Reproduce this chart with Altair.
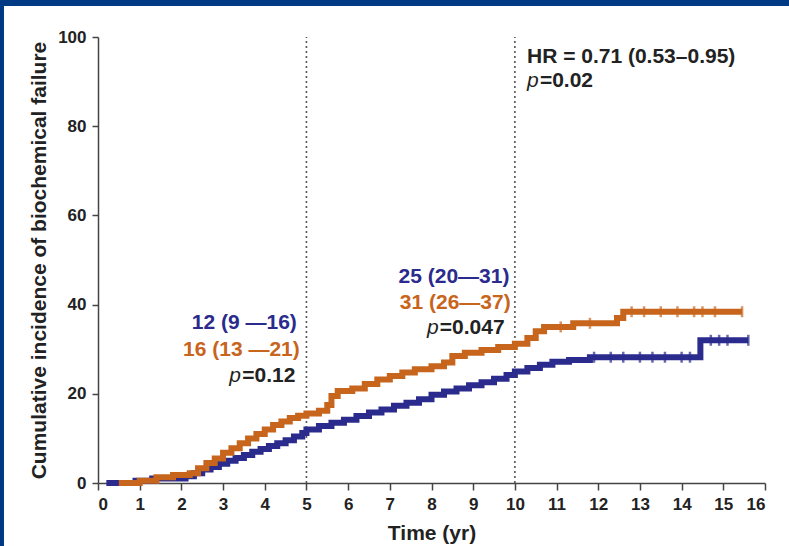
import altair as alt
import pandas as pd

# Cumulative incidence curves (time in years, incidence in %)
blue_t = [0.2, 0.9, 1.3, 2.1, 2.3, 2.5, 2.7, 2.9, 3.1, 3.3, 3.5, 3.7, 3.9, 4.1, 4.3,
          4.5, 4.7, 4.9, 5.0, 5.3, 5.6, 5.9, 6.2, 6.5, 6.8, 7.1, 7.4, 7.7, 8.0, 8.3,
          8.6, 8.9, 9.2, 9.5, 9.8, 10.0, 10.3, 10.6, 10.9, 11.3, 11.8, 14.45, 15.6]
blue_v = [0.0, 0.5, 1.0, 1.5, 2.2, 3.0, 3.6, 4.3, 5.0, 5.6, 6.3, 7.0, 7.6, 8.3, 8.9,
          9.6, 10.4, 11.2, 12.0, 12.8, 13.5, 14.2, 15.0, 15.8, 16.5, 17.3, 18.0, 18.8, 19.8, 20.5,
          21.2, 21.9, 22.6, 23.4, 24.2, 25.0, 25.8, 26.5, 27.2, 27.6, 28.2, 32.0, 32.0]

orange_t = [0.5, 1.0, 1.4, 1.8, 2.2, 2.4, 2.6, 2.8, 3.0, 3.2, 3.4, 3.6, 3.8, 4.0, 4.2,
            4.4, 4.6, 4.8, 5.0, 5.3, 5.5, 5.6, 5.75, 6.1, 6.4, 6.7, 7.0, 7.3, 7.6, 8.0,
            8.3, 8.5, 8.8, 9.2, 9.6, 10.0, 10.3, 10.5, 10.7, 11.4, 12.45, 12.6, 15.45]
orange_v = [0.0, 0.5, 1.3, 1.8, 2.2, 3.3, 4.5, 5.5, 6.8, 7.8, 8.9, 10.0, 11.0, 12.0, 13.0,
            13.8, 14.6, 15.1, 15.6, 16.2, 17.5, 19.5, 20.6, 21.2, 22.2, 23.2, 24.0, 24.8, 25.5, 26.2,
            27.0, 28.5, 29.2, 29.8, 30.5, 31.2, 32.5, 34.0, 35.0, 35.8, 37.0, 38.4, 38.4]

# Censoring times shown as small ticks on the plateaus
blue_cens = [11.9, 12.3, 12.6, 13.0, 13.3, 13.6, 14.0, 14.2, 14.7, 14.9, 15.1, 15.6]
orange_cens = [11.1, 11.8, 12.8, 13.1, 13.5, 13.9, 14.3, 14.5, 14.8, 15.45]

BLUE = "#2a2b8c"
ORANGE = "#c8651d"
FRAME = "#003a84"
INK = "#222222"
FONT = "Liberation Sans, Arial"
ANN = 21


def step_value(ts, vs, t):
    val = vs[0]
    for ti, vi in zip(ts, vs):
        if ti <= t:
            val = vi
    return val


curves = pd.concat([
    pd.DataFrame({"t": blue_t, "v": blue_v, "arm": "blue"}),
    pd.DataFrame({"t": orange_t, "v": orange_v, "arm": "orange"}),
])
cens = pd.concat([
    pd.DataFrame({"t": blue_cens, "v": [step_value(blue_t, blue_v, c) for c in blue_cens], "arm": "blue"}),
    pd.DataFrame({"t": orange_cens, "v": [step_value(orange_t, orange_v, c) for c in orange_cens], "arm": "orange"}),
])

xs = alt.Scale(domain=[0, 16], nice=False)
ys = alt.Scale(domain=[0, 100], nice=False)
col = alt.Color("arm:N", scale=alt.Scale(domain=["blue", "orange"], range=[BLUE, ORANGE]), legend=None)

x_enc = alt.X("t:Q", scale=xs, axis=alt.Axis(
    title="Time (yr)", values=list(range(0, 17)), grid=False,
    labelFontSize=17, labelFontWeight="bold", labelFont=FONT, labelColor=INK,
    titleFontSize=21, titleFontWeight="bold", titleFont=FONT, titleColor=INK,
    tickSize=7, tickWidth=1.5, domainWidth=1.5, domainColor="#444", tickColor="#444",
    labelPadding=6, titlePadding=10))
y_enc = alt.Y("v:Q", scale=ys, axis=alt.Axis(
    title="Cumulative incidence of biochemical failure", values=[0, 20, 40, 60, 80, 100], grid=False,
    labelFontSize=17, labelFontWeight="bold", labelFont=FONT, labelColor=INK,
    titleFontSize=21, titleFontWeight="bold", titleFont=FONT, titleColor=INK,
    tickSize=6, tickWidth=1.5, domainWidth=1.5, domainColor="#444", tickColor="#444",
    labelPadding=6, titlePadding=8))

lines = alt.Chart(curves).mark_line(interpolate="step-after", strokeWidth=6, strokeJoin="miter").encode(
    x=x_enc, y=y_enc, color=col, detail="arm:N")

ticks = alt.Chart(cens).mark_tick(orient="vertical", size=11, thickness=2.5).encode(
    x=alt.X("t:Q", scale=xs), y=alt.Y("v:Q", scale=ys), color=col)

marks_df = pd.DataFrame({"t": [5, 10], "y0": [0, 0], "y1": [100, 100]})
refs = alt.Chart(marks_df).mark_rule(color="#555", strokeWidth=1.6, strokeDash=[2, 3]).encode(
    x=alt.X("t:Q", scale=xs), y=alt.Y("y0:Q", scale=ys), y2="y1:Q")

# Annotations
ann_right = pd.DataFrame({
    "t": [4.77, 4.84, 9.87, 9.9],
    "v": [35.9, 29.9, 46.2, 40.4],
    "text": ["12 (9 —16)", "16 (13 —21)", "25 (20—31)", "31 (26—37)"],
    "c": [BLUE, ORANGE, BLUE, ORANGE],
})
txt_right = alt.Chart(ann_right).mark_text(align="right", baseline="middle", fontSize=ANN,
                                           fontWeight="bold", font=FONT).encode(
    x=alt.X("t:Q", scale=xs), y=alt.Y("v:Q", scale=ys), text="text:N", color=alt.Color("c:N", scale=None))

pvals = pd.DataFrame({
    "t": [3.46, 8.2, 10.6],
    "v": [24.0, 34.8, 90.1],
    "text": ["=0.12", "=0.047", "=0.02"],
})
p_letter = pd.DataFrame({
    "t": [3.43, 8.17, 10.57],
    "v": [24.0, 34.8, 90.1],
    "text": ["p", "p", "p"],
})
txt_p = alt.Chart(p_letter).mark_text(align="right", baseline="middle", fontSize=ANN,
                                       fontStyle="italic", font=FONT, color=INK).encode(
    x=alt.X("t:Q", scale=xs), y=alt.Y("v:Q", scale=ys), text="text:N")
txt_pv = alt.Chart(pvals).mark_text(align="left", baseline="middle", fontSize=ANN,
                                     fontWeight="bold", font=FONT, color=INK).encode(
    x=alt.X("t:Q", scale=xs), y=alt.Y("v:Q", scale=ys), text="text:N")

hr = pd.DataFrame({"t": [10.29], "v": [95.5], "text": ["HR = 0.71 (0.53–0.95)"]})
txt_hr = alt.Chart(hr).mark_text(align="left", baseline="middle", fontSize=ANN,
                                  fontWeight="bold", font=FONT, color=INK).encode(
    x=alt.X("t:Q", scale=xs), y=alt.Y("v:Q", scale=ys), text="text:N")

# Page frame (top band and left edge)
frame = pd.DataFrame({"k": ["top", "left"]})
top_bar = alt.Chart(frame).transform_filter("datum.k == 'top'").mark_rect(color=FRAME).encode(
    x=alt.value(-98), x2=alt.value(700), y=alt.value(-37), y2=alt.value(-31))
left_bar = alt.Chart(frame).transform_filter("datum.k == 'left'").mark_rect(color=FRAME).encode(
    x=alt.value(-98), x2=alt.value(-94), y=alt.value(-37), y2=alt.value(520))

chart = alt.layer(refs, lines, ticks, txt_right, txt_p, txt_pv, txt_hr, top_bar, left_bar).properties(
    width=667, height=446,
    autosize=alt.AutoSizeParams(type="none"),
    padding={"left": 98, "top": 37, "right": 24, "bottom": 63},
    background="white",
).configure_view(stroke=None, clip=False)

chart.save("out.html", embed_options={"renderer": "svg", "actions": False})
